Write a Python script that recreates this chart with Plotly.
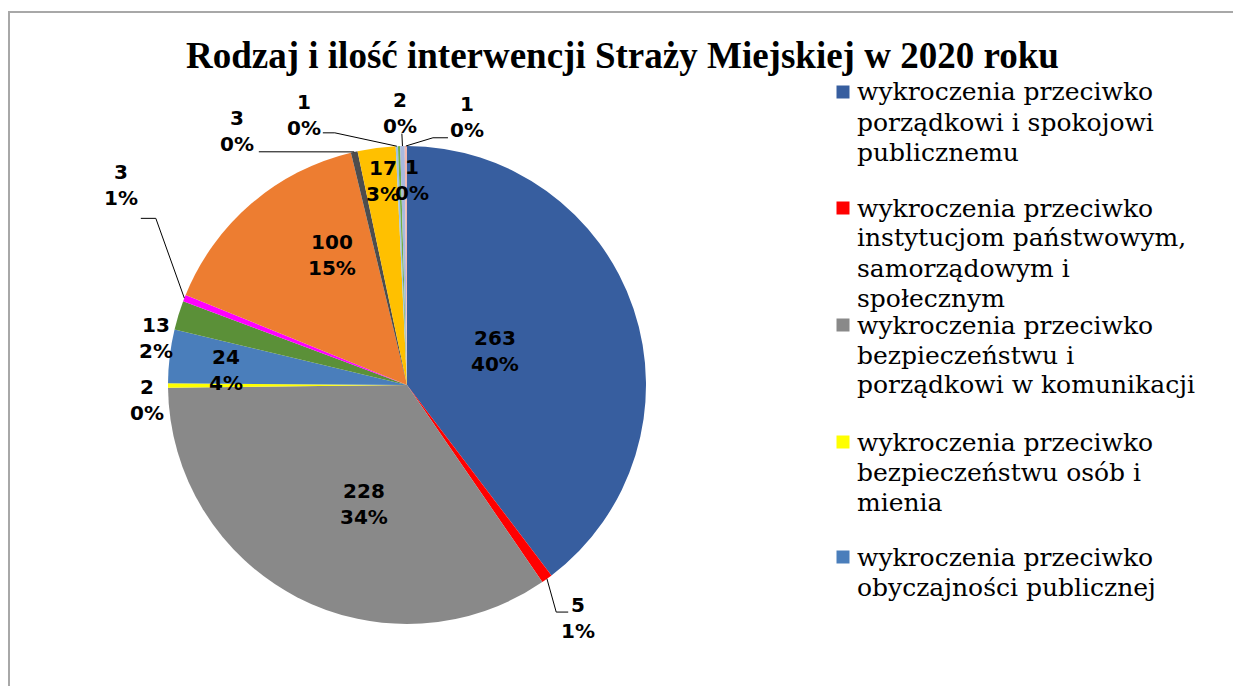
import math
import plotly.graph_objects as go

W, H = 1233, 686

# ---- data -------------------------------------------------------------
categories = [
    "wykroczenia przeciwko porządkowi i spokojowi publicznemu",
    "wykroczenia przeciwko instytucjom państwowym, samorządowym i społecznym",
    "wykroczenia przeciwko bezpieczeństwu i porządkowi w komunikacji",
    "wykroczenia przeciwko bezpieczeństwu osób i mienia",
    "wykroczenia przeciwko obyczajności publicznej",
    "wykroczenia przeciwko zdrowiu",
    "wykroczenia przeciwko mieniu",
    "ustawa o utrzymaniu czystości i porządku w gminach",
    "wykroczenia przeciwko urządzeniom użytku publicznego",
    "ustawa o wychowaniu w trzeźwości",
    "ustawa o ochronie zwierząt",
    "ustawa o ochronie zdrowia przed następstwami używania tytoniu",
    "szkodnictwo leśne, polne i ogrodowe",
    "inne",
]
values = [263, 5, 228, 2, 24, 13, 3, 100, 3, 17, 1, 1, 2, 1]
pct_labels = ["40%", "1%", "34%", "0%", "4%", "2%", "1%", "15%",
              "0%", "3%", "0%", "0%", "0%", "0%"]

# legend text (first five categories, wrapped as displayed)
legend_lines = [
    ["wykroczenia przeciwko", "porządkowi i spokojowi", "publicznemu"],
    ["wykroczenia przeciwko", "instytucjom państwowym,", "samorządowym i", "społecznym"],
    ["wykroczenia przeciwko", "bezpieczeństwu i", "porządkowi w komunikacji"],
    ["wykroczenia przeciwko", "bezpieczeństwu osób i", "mienia"],
    ["wykroczenia przeciwko", "obyczajności publicznej"],
]

title = "Rodzaj i ilość interwencji Straży Miejskiej w 2020 roku"

# ---- style ------------------------------------------------------------
colors = ["#375E9F", "#FF0000", "#898989", "#FFFF00", "#4A7EBB", "#5B9038",
          "#FF00FF", "#ED7D31", "#4D4D4D", "#FFC000", "#9DC3E6", "#70AD47",
          "#AAB9DE", "#F2B8B0"]

PIE_CX, PIE_CY, PIE_R = 407, 385, 239      # pixel geometry of the pie

# label placement: (angle clockwise from 12 o'clock, distance / radius)
label_pos = [(68.9, 0.395), (143.7, 1.21), (199.7, 0.53), (266.7, 1.09),
             (274.7, 0.76), (280.6, 1.07), (304.9, 1.46), (330.0, 0.63),
             (326.2, 1.28), (353.3, 0.86), (339.1, 1.21), (1.3, 0.86),
             (358.5, 1.14), (12.6, 1.15)]
# leader lines: pixel offsets from the label centre (elbow..., end)
leaders = {
    1: [(-22, -6), (-10, -6)],
    6: [(35, 33), (20, 33)],
    8: [(22, 21)],
    10: [(31, 18), (19, 18)],
    12: [(2, 21)],
    13: [(-34, 21), (-19, 21)],
}

legend_y = [92, 208, 325, 442, 557]        # first-line centres of legend items
LEG_LINE = 30                              # legend line pitch
LEG_SQ_X, LEG_TXT_X, LEG_SQ = 843, 855, 13

LABEL_FONT = dict(family="DejaVu Sans", size=20, color="black")
LEGEND_FONT = dict(family="DejaVu Serif", size=25, color="black")


def px(x):
    return x / W


def py(y):
    return 1 - y / H


def polar(angle_deg, rf):
    a = math.radians(angle_deg)
    return (PIE_CX + rf * PIE_R * math.sin(a), PIE_CY - rf * PIE_R * math.cos(a))


fig = go.Figure()
fig.add_trace(go.Pie(
    labels=categories,
    values=values,
    sort=False,
    direction="clockwise",
    rotation=0,
    textinfo="none",
    marker=dict(colors=colors, line=dict(width=0)),
    showlegend=False,
    domain=dict(x=[px(PIE_CX - PIE_R), px(PIE_CX + PIE_R)],
                y=[py(PIE_CY + PIE_R), py(PIE_CY - PIE_R)]),
))

annotations = []
shapes = []

# data labels and leader lines
total = sum(values)
cum = 0
for i, v in enumerate(values):
    mid = (cum + v / 2) / total * 360
    cum += v
    lx, ly = polar(*label_pos[i])
    annotations.append(dict(
        x=px(lx), y=py(ly), xref="paper", yref="paper",
        text=f"<b>{v}<br>{pct_labels[i]}</b>", showarrow=False,
        font=LABEL_FONT, xanchor="center", yanchor="middle", align="center"))
    if i in leaders:
        sx, sy = polar(mid, 1.0)
        pts = [(sx, sy)] + [(lx + dx, ly + dy) for dx, dy in leaders[i]]
        path = "M " + " L ".join(f"{px(a):.5f},{py(b):.5f}" for a, b in pts)
        shapes.append(dict(type="path", path=path, xref="paper", yref="paper",
                           line=dict(color="black", width=1)))

# legend
for i, lines in enumerate(legend_lines):
    yc = legend_y[i]
    shapes.append(dict(type="rect", xref="paper", yref="paper",
                       x0=px(LEG_SQ_X - LEG_SQ / 2), x1=px(LEG_SQ_X + LEG_SQ / 2),
                       y0=py(yc + LEG_SQ / 2), y1=py(yc - LEG_SQ / 2),
                       fillcolor=colors[i], line=dict(width=0)))
    for k, line in enumerate(lines):
        annotations.append(dict(
            x=px(LEG_TXT_X), y=py(yc + k * LEG_LINE), xref="paper", yref="paper",
            text=line, showarrow=False, font=LEGEND_FONT,
            xanchor="left", yanchor="middle", align="left"))

# title
annotations.append(dict(
    x=px(622), y=py(55), xref="paper", yref="paper",
    text=f"<b>{title}</b>", showarrow=False,
    font=dict(family="Liberation Serif", size=37, color="black"),
    xanchor="center", yanchor="middle"))

# chart frame
shapes.append(dict(type="path", xref="paper", yref="paper",
                   path=f"M {px(9)},{py(H + 2)} L {px(9)},{py(12)} L {px(W + 2)},{py(12)}",
                   line=dict(color="#A8A8A8", width=2)))

fig.update_layout(
    width=W, height=H,
    margin=dict(l=0, r=0, t=0, b=0),
    paper_bgcolor="white", plot_bgcolor="white",
    annotations=annotations, shapes=shapes,
)

fig.write_html("out.html")
